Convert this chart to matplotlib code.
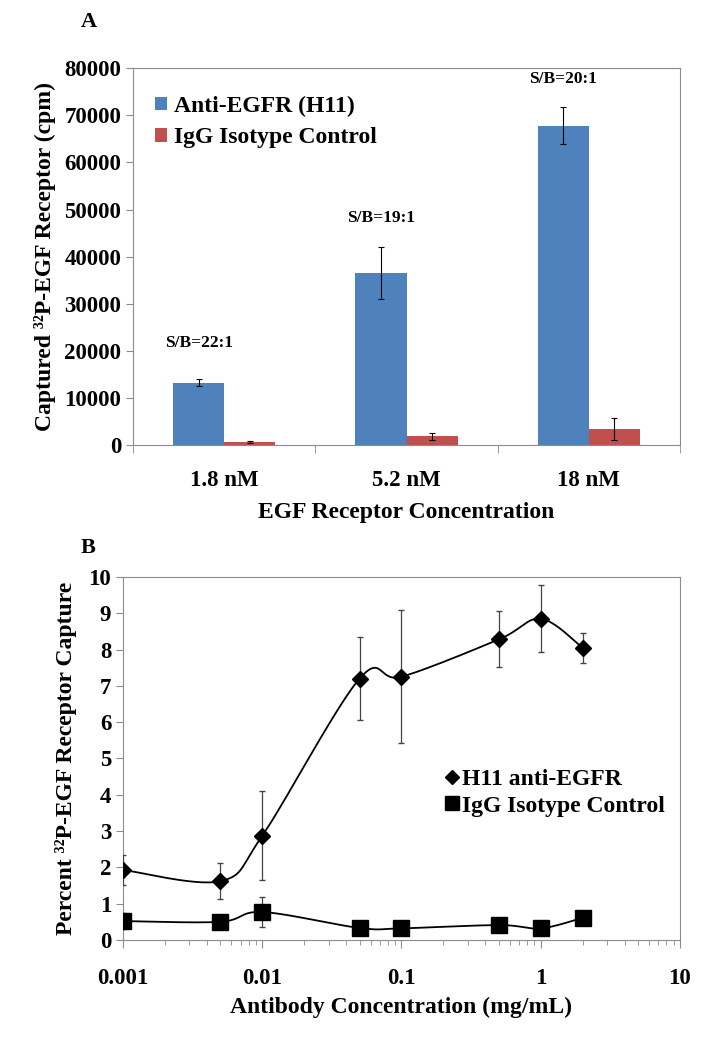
#!/usr/bin/env python3
"""Two-panel figure: EGF receptor capture (bars) and antibody titration (log-x lines)."""

import matplotlib
matplotlib.use("Agg")
import matplotlib.pyplot as plt
import numpy as np
from matplotlib.ticker import LogLocator, NullFormatter, FixedLocator

plt.rcParams["font.family"] = ["Liberation Serif", "DejaVu Serif"]
plt.rcParams["font.weight"] = "bold"

# ---- Panel A data ----
categories = ["1.8 nM", "5.2 nM", "18 nM"]
h11_cpm = [13300, 36500, 67800]
h11_err = [700, 5500, 3900]
igg_cpm = [650, 1900, 3400]
igg_err = [200, 700, 2300]
sb_labels = ["S/B=22:1", "S/B=19:1", "S/B=20:1"]
sb_heights = [20000, 46500, 76000]

# ---- Panel B data ----
ab_conc = [0.001, 0.005, 0.01, 0.05, 0.1, 0.5, 1, 2]
h11_pct = [1.93, 1.62, 2.87, 7.20, 7.25, 8.28, 8.85, 8.05]
h11_pct_err = [0.42, 0.50, 1.23, 1.15, 1.83, 0.77, 0.92, 0.42]
igg_pct = [0.52, 0.50, 0.77, 0.33, 0.32, 0.41, 0.32, 0.61]
igg_pct_err = [0.22, 0.08, 0.40, 0.08, 0.06, 0.08, 0.08, 0.08]

BLUE = "#4F81BD"
RED = "#C0504D"
FRAME = "#8c8c8c"
LABEL_FS = 17
TICK_FS = 16.5


def smooth_curve(xs, ys, xlim, ylim, aspect, n=30):
    """Excel-style smoothed line through points (Catmull-Rom Bezier in axes space)."""
    u = (np.log10(xs) - np.log10(xlim[0])) / (np.log10(xlim[1]) - np.log10(xlim[0])) * aspect
    v = (np.asarray(ys) - ylim[0]) / (ylim[1] - ylim[0])
    pts = np.column_stack([u, v])
    out = []
    for i in range(len(pts) - 1):
        p0 = pts[i - 1] if i > 0 else pts[i]
        p1, p2 = pts[i], pts[i + 1]
        p3 = pts[i + 2] if i + 2 < len(pts) else pts[i + 1]
        c1 = p1 + (p2 - p0) / 6.0
        c2 = p2 - (p3 - p1) / 6.0
        t = np.linspace(0, 1, n)[:, None]
        seg = ((1 - t) ** 3) * p1 + 3 * ((1 - t) ** 2) * t * c1 + 3 * (1 - t) * t ** 2 * c2 + t ** 3 * p2
        out.append(seg if i == 0 else seg[1:])
    curve = np.vstack(out)
    cx = 10 ** (curve[:, 0] / aspect * (np.log10(xlim[1]) - np.log10(xlim[0])) + np.log10(xlim[0]))
    cy = curve[:, 1] * (ylim[1] - ylim[0]) + ylim[0]
    return cx, cy


fig = plt.figure(figsize=(7.05, 10.5), dpi=100)

# ================= Panel A =================
axA = fig.add_axes([0.1887, 0.576, 0.7758, 0.359])
x = np.arange(len(categories))
w = 0.28
axA.bar(x - w / 2, h11_cpm, w, color=BLUE, label="Anti-EGFR (H11)",
        yerr=h11_err, error_kw=dict(ecolor="black", elinewidth=0.8, capsize=2, capthick=0.8))
axA.bar(x + w / 2, igg_cpm, w, color=RED, label="IgG Isotype Control",
        yerr=igg_err, error_kw=dict(ecolor="black", elinewidth=0.8, capsize=2, capthick=0.8))
for xi, txt, hy in zip(x, sb_labels, sb_heights):
    axA.text(xi - w / 2, hy, txt, ha="center", va="bottom", fontsize=12.5, fontweight="bold")

axA.set_xlim(-0.5, len(categories) - 0.5)
axA.set_ylim(0, 80000)
axA.set_yticks(np.arange(0, 80001, 10000))
axA.set_xticks(x)
axA.set_xticklabels(categories)
axA.xaxis.set_minor_locator(FixedLocator(np.arange(-0.5, len(categories), 1.0)))
axA.tick_params(axis="x", which="major", length=0, labelsize=TICK_FS, pad=18)
axA.tick_params(axis="x", which="minor", length=6, color=FRAME, direction="out")
axA.tick_params(axis="y", labelsize=TICK_FS, length=5, color=FRAME, direction="out")
for s in axA.spines.values():
    s.set_color(FRAME)
axA.set_ylabel("Captured ³²P-EGF Receptor (cpm)", fontsize=LABEL_FS, fontweight="bold", labelpad=6)
axA.set_xlabel("EGF Receptor Concentration", fontsize=LABEL_FS, fontweight="bold", labelpad=8)
leg = axA.legend(loc="upper left", bbox_to_anchor=(0.015, 0.965), frameon=False,
                 fontsize=17, handlelength=0.5, handleheight=0.5, handletextpad=0.3,
                 labelspacing=0.45, borderaxespad=0.2)
for t in leg.get_texts():
    t.set_fontweight("bold")
fig.text(0.115, 0.979, "A", fontsize=16, fontweight="bold", ha="left", va="center")

# ================= Panel B =================
axB = fig.add_axes([0.1745, 0.1048, 0.79, 0.3457])
xlimB = (0.001, 10)
ylimB = (0, 10)
axB.set_xscale("log")
axB.set_xlim(*xlimB)
axB.set_ylim(*ylimB)
aspect = (0.79 * 7.05) / (0.3457 * 10.5)

cx, cy = smooth_curve(ab_conc, h11_pct, xlimB, ylimB, aspect)
axB.plot(cx, cy, color="black", lw=1.3, zorder=2)
cx, cy = smooth_curve(ab_conc, igg_pct, xlimB, ylimB, aspect)
axB.plot(cx, cy, color="black", lw=1.3, zorder=2)

axB.errorbar(ab_conc, h11_pct, yerr=h11_pct_err, fmt="D", color="black", ms=8,
             ecolor="#444444", elinewidth=0.9, capsize=2, zorder=3, label="H11 anti-EGFR")
axB.errorbar(ab_conc, igg_pct, yerr=igg_pct_err, fmt="s", color="black", ms=11,
             ecolor="#444444", elinewidth=0.9, capsize=2, zorder=3, label="IgG Isotype Control")

axB.set_yticks(np.arange(0, 11, 1))
axB.set_xticks([0.001, 0.01, 0.1, 1, 10])
axB.set_xticklabels(["0.001", "0.01", "0.1", "1", "10"])
axB.xaxis.set_minor_locator(LogLocator(base=10, subs=np.arange(2, 10), numticks=20))
axB.xaxis.set_minor_formatter(NullFormatter())
axB.tick_params(axis="x", which="major", labelsize=TICK_FS, length=6, color=FRAME, direction="out", pad=14)
axB.tick_params(axis="x", which="minor", length=3.5, color=FRAME, direction="out")
axB.tick_params(axis="y", labelsize=TICK_FS, length=5, color=FRAME, direction="out")
for s in axB.spines.values():
    s.set_color(FRAME)
axB.set_ylabel("Percent ³²P-EGF Receptor Capture", fontsize=LABEL_FS, fontweight="bold", labelpad=8)
axB.set_xlabel("Antibody Concentration (mg/mL)", fontsize=LABEL_FS, fontweight="bold", labelpad=6)

handles, labels = axB.get_legend_handles_labels()
handles = [h[0] for h in handles]
legB = axB.legend(handles, labels, loc="upper left", bbox_to_anchor=(0.54, 0.53), frameon=False,
                  fontsize=17, handlelength=0.6, handletextpad=0.1, labelspacing=0.2,
                  markerscale=0.9)
for t in legB.get_texts():
    t.set_fontweight("bold")
fig.text(0.115, 0.478, "B", fontsize=16, fontweight="bold", ha="left", va="center")

fig.savefig("out.png", dpi=100)
